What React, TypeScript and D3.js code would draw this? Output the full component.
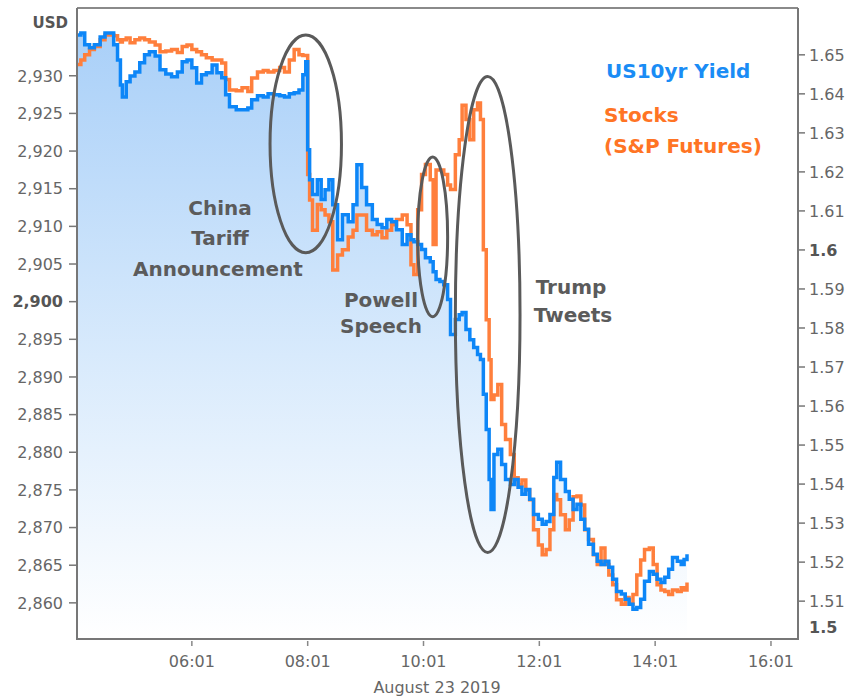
import React from 'react';
import * as d3 from 'd3';

// times of day (Aug 23 2019)
const times = [
  '04:02', '04:06', '04:10', '04:15', '04:20', '04:26', '04:31', '04:36', '04:40', '04:44',
  '04:47', '04:49', '04:53', '04:57', '05:02', '05:07', '05:12', '05:17', '05:23', '05:28',
  '05:34', '05:40', '05:46', '05:51', '05:56', '06:01', '06:06', '06:11', '06:16', '06:22',
  '06:27', '06:32', '06:36', '06:40', '06:47', '06:53', '06:59', '07:03', '07:09', '07:15',
  '07:20', '07:26', '07:32', '07:37', '07:42', '07:47', '07:52', '07:56', '07:59', '08:01',
  '08:03', '08:06', '08:11', '08:15', '08:19', '08:23', '08:27', '08:32', '08:37', '08:43',
  '08:48', '08:52', '08:57', '09:02', '09:08', '09:13', '09:18', '09:23', '09:28', '09:33',
  '09:39', '09:44', '09:48', '09:51', '09:55', '09:59', '10:03', '10:08', '10:11', '10:14',
  '10:18', '10:22', '10:26', '10:29', '10:34', '10:38', '10:41', '10:45', '10:49', '10:53',
  '10:57', '11:00', '11:03', '11:06', '11:09', '11:11', '11:14', '11:18', '11:22', '11:26',
  '11:31', '11:35', '11:39', '11:43', '11:47', '11:51', '11:55', '12:00', '12:04', '12:08',
  '12:12', '12:16', '12:19', '12:23', '12:28', '12:32', '12:36', '12:40', '12:44', '12:48',
  '12:52', '12:57', '13:01', '13:05', '13:09', '13:13', '13:17', '13:21', '13:26', '13:30',
  '13:34', '13:38', '13:42', '13:46', '13:50', '13:55', '13:59', '14:03', '14:07', '14:11',
  '14:15', '14:19', '14:24', '14:28', '14:31', '14:34',
];

// S&P futures (left axis, USD)
const stocks = [
  2931.5, 2932.1, 2932.8, 2933.5, 2933.9, 2934.8, 2935.4, 2935.4, 2935.3, 2934.8,
  2934.5, 2934.8, 2935.0, 2934.4, 2934.8, 2935.0, 2934.8, 2934.5, 2934.1, 2933.2,
  2933.3, 2933.5, 2933.1, 2933.9, 2934.1, 2933.5, 2933.2, 2932.8, 2932.4, 2932.1,
  2932.1, 2931.7, 2929.5, 2928.1, 2928.0, 2928.4, 2927.9, 2929.7, 2930.5, 2930.7,
  2930.5, 2930.7, 2931.1, 2930.5, 2932.1, 2933.5, 2932.8, 2932.7, 2932.7, 2916.9,
  2913.5, 2909.5, 2912.9, 2912.2, 2911.5, 2910.6, 2904.2, 2906.2, 2906.9, 2908.6,
  2909.5, 2911.5, 2911.5, 2909.5, 2908.9, 2909.3, 2908.5, 2909.5, 2910.2, 2910.9,
  2911.5, 2910.2, 2904.9, 2903.6, 2912.2, 2916.9, 2918.2, 2916.2, 2907.6, 2917.5,
  2917.5, 2916.9, 2915.5, 2914.9, 2919.5, 2921.5, 2926.1, 2924.2, 2921.5, 2925.5,
  2926.4, 2924.2, 2906.9, 2897.6, 2892.3, 2887.0, 2887.6, 2889.0, 2883.7, 2881.7,
  2879.7, 2876.6, 2875.7, 2876.3, 2875.0, 2873.7, 2869.7, 2867.7, 2866.4, 2867.1,
  2869.7, 2874.4, 2873.7, 2871.7, 2869.7, 2871.0, 2874.1, 2874.2, 2873.0, 2869.7,
  2868.4, 2866.4, 2865.1, 2867.3, 2865.1, 2863.7, 2862.4, 2860.4, 2859.8, 2860.7,
  2859.8, 2861.1, 2863.7, 2865.7, 2867.1, 2867.3, 2865.1, 2862.4, 2861.7, 2861.5,
  2861.1, 2861.7, 2861.5, 2862.0, 2861.7, 2862.7,
];

// US 10yr yield (right axis, %)
const yields = [
  1.6551, 1.6556, 1.6526, 1.6518, 1.6526, 1.6546, 1.6556, 1.6556, 1.6526, 1.6487,
  1.6423, 1.6392, 1.6431, 1.6446, 1.6456, 1.6480, 1.6500, 1.6508, 1.6497, 1.6462,
  1.6451, 1.6444, 1.6456, 1.6482, 1.6487, 1.6467, 1.6428, 1.6449, 1.6454, 1.6474,
  1.6454, 1.6441, 1.6398, 1.6367, 1.6359, 1.6359, 1.6364, 1.6385, 1.6395, 1.6392,
  1.6400, 1.6398, 1.6395, 1.6392, 1.6400, 1.6403, 1.6410, 1.6449, 1.6482, 1.6257,
  1.6180, 1.6142, 1.6180, 1.6129, 1.6154, 1.6180, 1.6116, 1.6026, 1.6090, 1.6072,
  1.6116, 1.6218, 1.6160, 1.6116, 1.6078, 1.6065, 1.6057, 1.6078, 1.6072, 1.6052,
  1.6014, 1.6039, 1.6026, 1.6021, 1.6014, 1.6001, 1.5980, 1.5970, 1.5944, 1.5924,
  1.5919, 1.5911, 1.5873, 1.5783, 1.5822, 1.5834, 1.5840, 1.5796, 1.5770, 1.5750,
  1.5732, 1.5719, 1.5630, 1.5540, 1.5412, 1.5335, 1.5476, 1.5489, 1.5450, 1.5412,
  1.5399, 1.5412, 1.5392, 1.5374, 1.5386, 1.5361, 1.5322, 1.5310, 1.5297, 1.5304,
  1.5322, 1.5417, 1.5456, 1.5412, 1.5381, 1.5361, 1.5335, 1.5348, 1.5310, 1.5284,
  1.5246, 1.5220, 1.5202, 1.5194, 1.5202, 1.5187, 1.5156, 1.5125, 1.5118, 1.5105,
  1.5092, 1.5079, 1.5084, 1.5105, 1.5151, 1.5176, 1.5169, 1.5156, 1.5148, 1.5161,
  1.5182, 1.5212, 1.5202, 1.5194, 1.5207, 1.5220,
];

const xTickLabels = ['06:01', '08:01', '10:01', '12:01', '14:01', '16:01'];
const leftTicks = [2860, 2865, 2870, 2875, 2880, 2885, 2890, 2895, 2900, 2905, 2910, 2915, 2920, 2925, 2930];
const rightTicks = [1.51, 1.52, 1.53, 1.54, 1.55, 1.56, 1.57, 1.58, 1.59, 1.6, 1.61, 1.62, 1.63, 1.64, 1.65];

// annotation ellipses: time span and USD span
const notes = [
  { from: '07:22', to: '08:36', hi: 2935.4, lo: 2906.5 },
  { from: '09:55', to: '10:26', hi: 2919.2, lo: 2898.0 },
  { from: '10:34', to: '11:41', hi: 2929.9, lo: 2866.7 },
];

const W = 851;
const H = 698;
const margin = { top: 8, right: 53, bottom: 59, left: 77 };
const BLUE = '#0d86f7';
const ORANGE = '#ff7f3c';
const GREY = '#666';
const FONT = '"DejaVu Sans", Verdana, sans-serif';

const parseT = (s: string) => {
  const [h, m] = s.split(':').map(Number);
  return new Date(2019, 7, 23, h, m);
};

export default function App() {
  const innerW = W - margin.left - margin.right;
  const innerH = H - margin.top - margin.bottom;
  const x0 = margin.left;
  const x1 = margin.left + innerW;
  const y0 = margin.top;
  const y1 = margin.top + innerH;

  const x = d3.scaleTime().domain([parseT('04:02'), parseT('16:29')]).range([x0, x1]);
  const yL = d3.scaleLinear().domain([2855.2, 2939.0]).range([y1, y0]);
  const yR = d3.scaleLinear().domain([1.5003, 1.662]).range([y1, y0]);

  const data = times.map((t, i) => ({ t: parseT(t), s: stocks[i], y: yields[i] }));
  type D = (typeof data)[number];

  const area = d3.area<D>().x(d => x(d.t)).y0(y1).y1(d => yR(d.y)).curve(d3.curveStepAfter);
  const lineS = d3.line<D>().x(d => x(d.t)).y(d => yL(d.s)).curve(d3.curveStepAfter);
  const lineY = d3.line<D>().x(d => x(d.t)).y(d => yR(d.y)).curve(d3.curveStepAfter);

  const fmtL = d3.format(',');

  return (
    <svg width={W} height={H} style={{ position: 'absolute', left: 0, top: 0, background: '#fff' }} fontFamily={FONT}>
      <defs>
        <linearGradient id="yFill" gradientUnits="userSpaceOnUse" x1={0} y1={y0} x2={0} y2={y1}>
          <stop offset="0%" stopColor="#a6cef8" />
          <stop offset="55%" stopColor="#d8eafc" />
          <stop offset="100%" stopColor="#ffffff" />
        </linearGradient>
        <clipPath id="plot">
          <rect x={x0} y={y0} width={innerW} height={innerH} />
        </clipPath>
      </defs>

      <g clipPath="url(#plot)">
        <path d={area(data) ?? ''} fill="url(#yFill)" />
        <path d={lineS(data) ?? ''} fill="none" stroke={ORANGE} strokeWidth={3.5} />
        <path d={lineY(data) ?? ''} fill="none" stroke={BLUE} strokeWidth={3.5} />
      </g>

      {/* frame */}
      <line x1={x0} x2={x1} y1={y0} y2={y0} stroke="#8a8a8a" strokeWidth={2} />
      <line x1={x0} x2={x0} y1={y0} y2={y1 + 1} stroke="#777" strokeWidth={2} />
      <line x1={x1} x2={x1} y1={y0} y2={y1 + 1} stroke="#777" strokeWidth={2} />
      <line x1={x0 - 1} x2={x1 + 1} y1={y1} y2={y1} stroke="#777" strokeWidth={2} />

      {/* left axis */}
      <text x={68} y={28} textAnchor="end" fontSize={15} fontWeight="bold" fill="#555">USD</text>
      {leftTicks.map(v => (
        <g key={v}>
          <line x1={x0 - 8} x2={x0} y1={yL(v)} y2={yL(v)} stroke="#777" strokeWidth={1.5} />
          <text x={63} y={yL(v)} dy="0.36em" textAnchor="end" fontSize={16}
            fontWeight={v === 2900 ? 'bold' : 'normal'} fill={v === 2900 ? '#555' : GREY}>
            {fmtL(v)}
          </text>
        </g>
      ))}

      {/* right axis */}
      {rightTicks.map(v => (
        <g key={v}>
          <line x1={x1} x2={x1 + 7} y1={yR(v)} y2={yR(v)} stroke="#777" strokeWidth={1.5} />
          <text x={809} y={yR(v)} dy="0.36em" fontSize={16}
            fontWeight={v === 1.6 ? 'bold' : 'normal'} fill={v === 1.6 ? '#555' : GREY}>
            {String(v)}
          </text>
        </g>
      ))}
      <text x={809} y={yR(1.5) - 13} dy="0.36em" fontSize={16} fontWeight="bold" fill="#555">1.5</text>

      {/* x axis */}
      {xTickLabels.map(t => (
        <g key={t}>
          <line x1={x(parseT(t))} x2={x(parseT(t))} y1={y1 + 2} y2={y1 + 7} stroke="#888" strokeWidth={1.5} />
          <text x={x(parseT(t))} y={667} textAnchor="middle" fontSize={16} fill={GREY}>{t}</text>
        </g>
      ))}
      <text x={437} y={693} textAnchor="middle" fontSize={16} fill={GREY}>August 23 2019</text>

      {/* annotations */}
      {notes.map((n, i) => {
        const a = x(parseT(n.from));
        const b = x(parseT(n.to));
        const top = yL(n.hi);
        const bot = yL(n.lo);
        return (
          <ellipse key={i} cx={(a + b) / 2} cy={(top + bot) / 2} rx={(b - a) / 2} ry={(bot - top) / 2}
            fill="none" stroke="#5a5a5a" strokeWidth={3} />
        );
      })}
      <g fontSize={20} fontWeight="bold" fill="#5b5b5b" textAnchor="middle">
        <text x={220} y={215}>China</text>
        <text x={220} y={245}>Tariff</text>
        <text x={218} y={276}>Announcement</text>
        <text x={381} y={307}>Powell</text>
        <text x={381} y={333}>Speech</text>
        <text x={571} y={294}>Trump</text>
        <text x={573} y={322}>Tweets</text>
      </g>

      {/* legend */}
      <g fontSize={20} fontWeight="bold">
        <text x={606} y={78} fill="#1a8cf5">US10yr Yield</text>
        <text x={604} y={122} fill="#ff7424">Stocks</text>
        <text x={604} y={153} fill="#ff7424">(S&amp;P Futures)</text>
      </g>
    </svg>
  );
}
